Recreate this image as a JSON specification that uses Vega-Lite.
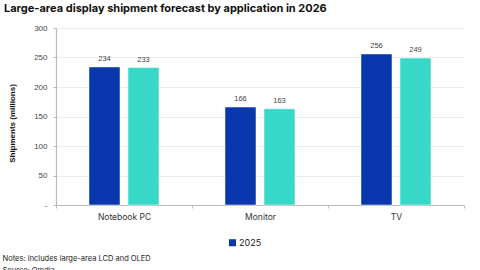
{
  "$schema": "https://vega.github.io/schema/vega-lite/v6.json",
  "width": 408,
  "height": 177,
  "autosize": {"type": "none"},
  "padding": {"left": 56, "top": 28, "right": 16, "bottom": 65},
  "background": "white",
  "title": {
    "text": "Large-area display shipment forecast by application in 2026",
    "anchor": "start",
    "frame": "group",
    "font": "Inter",
    "fontSize": 11,
    "fontWeight": "bold",
    "color": "#111111",
    "dx": -52,
    "offset": 10
  },
  "config": {
    "view": {"stroke": null},
    "font": "Inter"
  },
  "data": {
    "values": [
      {"application": "Notebook PC", "year": "2025", "shipments": 234},
      {"application": "Notebook PC", "year": "2026", "shipments": 233},
      {"application": "Monitor", "year": "2025", "shipments": 166},
      {"application": "Monitor", "year": "2026", "shipments": 163},
      {"application": "TV", "year": "2025", "shipments": 256},
      {"application": "TV", "year": "2026", "shipments": 249}
    ]
  },
  "encoding": {
    "x": {
      "field": "application",
      "type": "nominal",
      "sort": ["Notebook PC", "Monitor", "TV"],
      "scale": {"paddingInner": 0, "paddingOuter": 0},
      "axis": {
        "title": ["Notes: Includes large-area  LCD and OLED", "Source: Omdia"],
        "titleAnchor": "start",
        "titleAlign": "left",
        "titleX": -54,
        "titleY": 49,
        "titleFont": "Inter",
        "titleFontSize": 7.5,
        "titleFontWeight": "normal",
        "titleColor": "#222222",
        "titleLineHeight": 12,
        "labelAngle": 0,
        "labelFont": "Inter",
        "labelFontSize": 8.5,
        "labelColor": "#333333",
        "labelPadding": 4,
        "tickBand": "extent",
        "tickColor": "#bbbbbb",
        "tickSize": 3,
        "domainColor": "#bbbbbb",
        "domainWidth": 1.2
      }
    },
    "xOffset": {
      "field": "year",
      "type": "nominal",
      "scale": {"paddingInner": 0.205, "paddingOuter": 0.846}
    },
    "y": {
      "field": "shipments",
      "type": "quantitative",
      "scale": {"domain": [0, 300]},
      "axis": {
        "title": "Shipments (millions)",
        "titleFont": "Liberation Sans",
        "titleFontSize": 8,
        "titleFontWeight": "bold",
        "titleColor": "#111111",
        "titleX": -40,
        "titleY": 95,
        "values": [0, 50, 100, 150, 200, 250, 300],
        "labelExpr": "datum.value == 0 ? '-' : datum.label",
        "labelFont": "Liberation Sans",
        "labelFontSize": 8,
        "labelColor": "#444444",
        "labelPadding": 6,
        "tickColor": "#bbbbbb",
        "tickSize": 3,
        "domainColor": "#bbbbbb",
        "domainWidth": 1.2,
        "gridColor": "#ececec",
        "gridWidth": 1
      }
    }
  },
  "layer": [
    {
      "mark": {"type": "bar", "stroke": "white", "strokeWidth": 0.5},
      "encoding": {
        "color": {
          "field": "year",
          "type": "nominal",
          "scale": {"domain": ["2025", "2026"], "range": ["#0A36AE", "#38D8C8"]},
          "legend": {
            "title": null,
            "orient": "none",
            "legendX": 172,
            "legendY": 210,
            "direction": "horizontal",
            "columns": 2,
            "columnPadding": 219,
            "symbolType": "square",
            "symbolSize": 50,
            "symbolStrokeWidth": 0,
            "symbolOffset": 0,
            "labelOffset": 2,
            "labelFont": "Inter",
            "labelFontSize": 9,
            "labelColor": "#222222"
          }
        }
      }
    },
    {
      "mark": {"type": "text", "baseline": "bottom", "dy": -4, "font": "Liberation Sans", "fontSize": 7.5, "color": "#444444"},
      "encoding": {
        "text": {"field": "shipments", "type": "quantitative"}
      }
    }
  ]
}
